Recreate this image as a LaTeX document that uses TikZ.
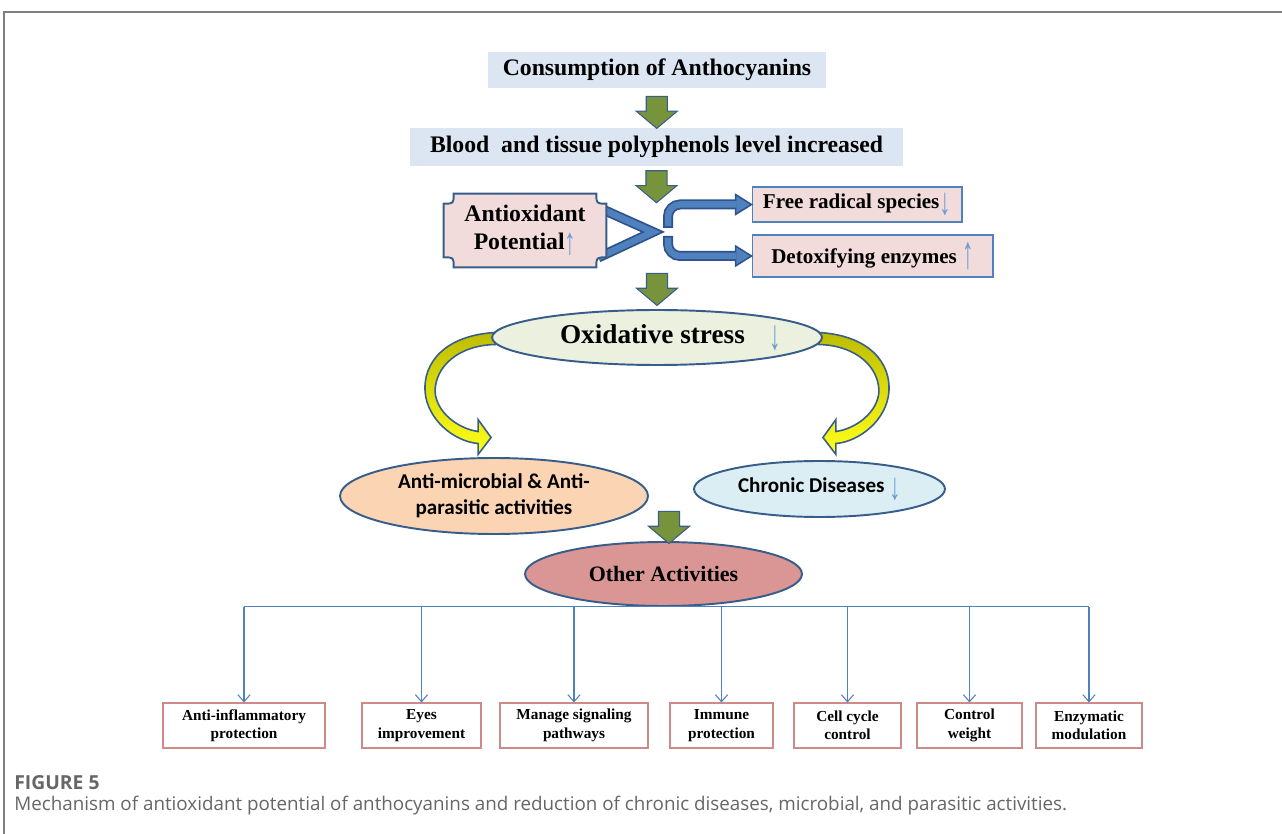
\documentclass[tikz,border=0pt]{standalone}
\usepackage{fontspec}
\setmainfont{Liberation Serif}
\newfontfamily\calibri{Carlito}
\newfontfamily\capfont{Open Sans}
\usepackage{xcolor}
\usepackage{graphicx}
\usetikzlibrary{calc, positioning, shapes.geometric, shapes.arrows, arrows.meta, backgrounds}

\definecolor{boxBlue}{HTML}{DCE6F2}
\definecolor{boxPink}{HTML}{F2DCDB}
\definecolor{oxGreen}{HTML}{EBF1DE}
\definecolor{peach}{HTML}{FBD4B4}
\definecolor{chronicBlue}{HTML}{DBEEF4}
\definecolor{otherRose}{HTML}{D99694}
\definecolor{edgeBlue}{HTML}{385D8A}
\definecolor{chevDark}{HTML}{2F528F}
\definecolor{lineBlue}{HTML}{4F81BD}
\definecolor{arrowBlue}{HTML}{6A9BD3}
\definecolor{leafRed}{HTML}{CD8A88}
\definecolor{greenFill}{HTML}{77933C}
\definecolor{yellowDark}{HTML}{BDBD00}
\definecolor{yellowLight}{HTML}{FFFF1A}
\definecolor{frameGray}{HTML}{7F7F7F}
\definecolor{captionGray}{HTML}{666666}

\newcommand\incr[1][1.8]{{\color{arrowBlue}\rmfamily\mdseries\fontsize{12}{12}\selectfont\raisebox{-0.25em}{\scalebox{1.1}[#1]{↑}}}}
\newcommand\decr[1][1.8]{{\color{arrowBlue}\rmfamily\mdseries\fontsize{12}{12}\selectfont\raisebox{-0.3em}{\scalebox{1.1}[#1]{↓}}}}

\tikzset{
  topbox/.style={fill=boxBlue, inner sep=0pt, font=\fontsize{13.5}{16}\selectfont\bfseries},
  pinkbox/.style={fill=boxPink, draw=lineBlue, line width=0.6pt, inner sep=0pt,
                  font=\fontsize{12}{14}\selectfont\bfseries},
  oval/.style={ellipse, draw=edgeBlue, line width=1.1pt, inner sep=0pt, align=center},
  greenarrow/.style={single arrow, rotate=-90, fill=greenFill, draw=edgeBlue, line width=0.6pt,
                     minimum height=0.64cm, inner xsep=0pt, inner ysep=0.2cm,
                     single arrow head extend=0.2cm, single arrow tip angle=100},
  leafbox/.style={draw=leafRed, line width=0.6pt, fill=white, minimum height=0.9cm, inner sep=0pt,
                  align=center, font=\fontsize{8.7}{10.5}\selectfont\bfseries},
  treeline/.style={draw=lineBlue, line width=0.6pt},
  bendarrow/.pic={
    \draw[edgeBlue, line width=0.9pt, top color=yellowDark, bottom color=yellowLight]
      (4,-5) .. controls (-47,-2) and (-68,26) .. (-66,54)
      .. controls (-64,82) and (-37,104) .. (-13,106)
      -- (-13,117) -- (0,100) -- (-13,82) -- (-13,94)
      .. controls (-34,91) and (-55,74) .. (-56,54)
      .. controls (-56,30) and (-34,8) .. (4,7) -- cycle;
  }
}

\begin{document}
\begin{tikzpicture}[x=0.02cm, y=-0.02cm]
  \useasboundingbox (0,0) rectangle (1282,834);
  \draw[frameGray, line width=0.8pt] (4,834) -- (4,12) -- (1282,12);

  % main chain
  \node[topbox, minimum width=6.76cm, minimum height=0.72cm] (consume) at (657,70) {Consumption of Anthocyanins};
  \node[topbox, minimum width=9.86cm, minimum height=0.76cm] (blood) at (656.5,147) {Blood\ \ and tissue polyphenols level increased};
  \node[greenarrow] (a1) at ($(consume.south)!0.5!(blood.north)$) {};
  \node[greenarrow] (a2) at ($(blood.south)+(0,16)$) {};

  \node[minimum width=3.24cm, minimum height=1.46cm, inner sep=0pt, align=center,
        font=\fontsize{13.5}{16}\selectfont\bfseries] (antiox) at (525,230.5) {Antioxidant\\Potential\incr};
  \coordinate (chevtip) at (653,232);
  \node[pinkbox, minimum width=4.2cm, minimum height=0.7cm] (free) at (857,204.5) {Free radical species\decr};
  \node[pinkbox, minimum width=4.82cm, minimum height=0.84cm] (detox) at (872.5,256) {Detoxifying enzymes \incr[2.2]};

  \begin{scope}[on background layer]
    \draw[chevDark, double=lineBlue, double distance=0.13cm, line width=0.035cm]
      ($(antiox.east)+(-8,-23)$) -- (chevtip) -- ($(antiox.east)+(-8,27)$);
    \filldraw[fill=boxPink, draw=edgeBlue, line width=1.1pt]
      ($(antiox.north west)+(10,0)$) -- ($(antiox.north east)+(-10,0)$)
      .. controls ($(antiox.north east)+(-10,10)$) .. ($(antiox.north east)+(0,10)$)
      -- ($(antiox.south east)+(0,-10)$)
      .. controls ($(antiox.south east)+(-10,-10)$) .. ($(antiox.south east)+(-10,0)$)
      -- ($(antiox.south west)+(10,0)$)
      .. controls ($(antiox.south west)+(10,-10)$) .. ($(antiox.south west)+(0,-10)$)
      -- ($(antiox.north west)+(0,10)$)
      .. controls ($(antiox.north west)+(10,10)$) .. ($(antiox.north west)+(10,0)$) -- cycle;
  \end{scope}

  % split to the two boxes
  \draw[chevDark, line width=0.2cm, rounded corners=0.24cm] ($(chevtip)+(15,-4)$) |- ($(free.west)+(-14,0)$);
  \filldraw[fill=lineBlue, draw=chevDark, line width=0.03cm] ($(free.west)+(-16,-10)$) -- (free.west) -- ($(free.west)+(-16,10)$) -- cycle;
  \draw[lineBlue, line width=0.13cm, rounded corners=0.24cm, shorten <=0.035cm] ($(chevtip)+(15,-4)$) |- ($(free.west)+(-15,0)$);
  \draw[chevDark, line width=0.2cm, rounded corners=0.24cm] ($(chevtip)+(15,4)$) |- ($(detox.west)+(-14,0)$);
  \filldraw[fill=lineBlue, draw=chevDark, line width=0.03cm] ($(detox.west)+(-16,-10)$) -- (detox.west) -- ($(detox.west)+(-16,10)$) -- cycle;
  \draw[lineBlue, line width=0.13cm, rounded corners=0.24cm, shorten <=0.035cm] ($(chevtip)+(15,4)$) |- ($(detox.west)+(-15,0)$);

  % oxidative stress and its outcomes
  \node[oval, fill=oxGreen, minimum width=6.6cm, minimum height=1.1cm,
        font=\fontsize{15.5}{18}\selectfont\bfseries] (ox) at (657,337.5)
        {\makebox[3cm]{\hspace*{0.55cm}Oxidative stress\hspace{0.5cm}\decr[2]}};
  \node[greenarrow] (a3) at ($(ox.north)+(0,-24)$) {};
  \node[oval, fill=peach, minimum width=6.16cm, minimum height=1.52cm,
        font=\calibri\fontsize{12}{15}\selectfont\bfseries] (micro) at (494,496) {Anti-microbial \& Anti-\\parasitic activities};
  \node[oval, fill=chronicBlue, minimum width=5.02cm, minimum height=1.12cm,
        font=\calibri\fontsize{12}{15}\selectfont\bfseries] (chronic) at (819.5,489) {Chronic Diseases \decr};
  \begin{scope}[on background layer]
    \pic at (ox.west) {bendarrow};
    \pic[xscale=-1] at (ox.east) {bendarrow};
  \end{scope}

  \node[oval, fill=otherRose, minimum width=5.54cm, minimum height=1.28cm,
        font=\fontsize{12.5}{15}\selectfont\bfseries] (other) at (663.5,574) {Other Activities};
  \node[greenarrow] (a4) at ($(other.north)+(5.5,-18)$) {};

  % leaves
  \node[leafbox, minimum width=3.24cm] (leaf1) at (244,725.5) {Anti-inflammatory\\protection};
  \node[leafbox, minimum width=2.38cm] (leaf2) at (421.5,725.5) {Eyes\\improvement};
  \node[leafbox, minimum width=2.96cm] (leaf3) at (574,725.5) {Manage signaling\\pathways};
  \node[leafbox, minimum width=2.06cm] (leaf4) at (721.5,725.5) {Immune\\protection};
  \node[leafbox, minimum width=2.14cm] (leaf5) at (847.5,725.5) {Cell cycle\\control};
  \node[leafbox, minimum width=2.10cm] (leaf6) at (969.5,725.5) {Control\\weight};
  \node[leafbox, minimum width=2.12cm] (leaf7) at (1089,725.5) {Enzymatic\\modulation};

  \coordinate (hub) at (other.south);
  \draw[treeline] (leaf1.north |- hub) -- (leaf7.north |- hub);
  \foreach \i in {1,...,7}
    \draw[treeline, -{Straight Barb[length=4pt, width=7pt]}] (leaf\i.north |- hub) -- (leaf\i.north);

  % caption
  \node[anchor=west, inner sep=0pt, text=captionGray, font=\capfont\fontsize{11}{13}\selectfont\bfseries] (fig) at (14,783) {FIGURE 5};
  \node[anchor=west, inner sep=0pt, text=captionGray, font=\capfont\fontsize{10.7}{13}\selectfont] (cap) at (14,806)
    {Mechanism of antioxidant potential of anthocyanins and reduction of chronic diseases, microbial, and parasitic activities.};
\end{tikzpicture}
\end{document}
